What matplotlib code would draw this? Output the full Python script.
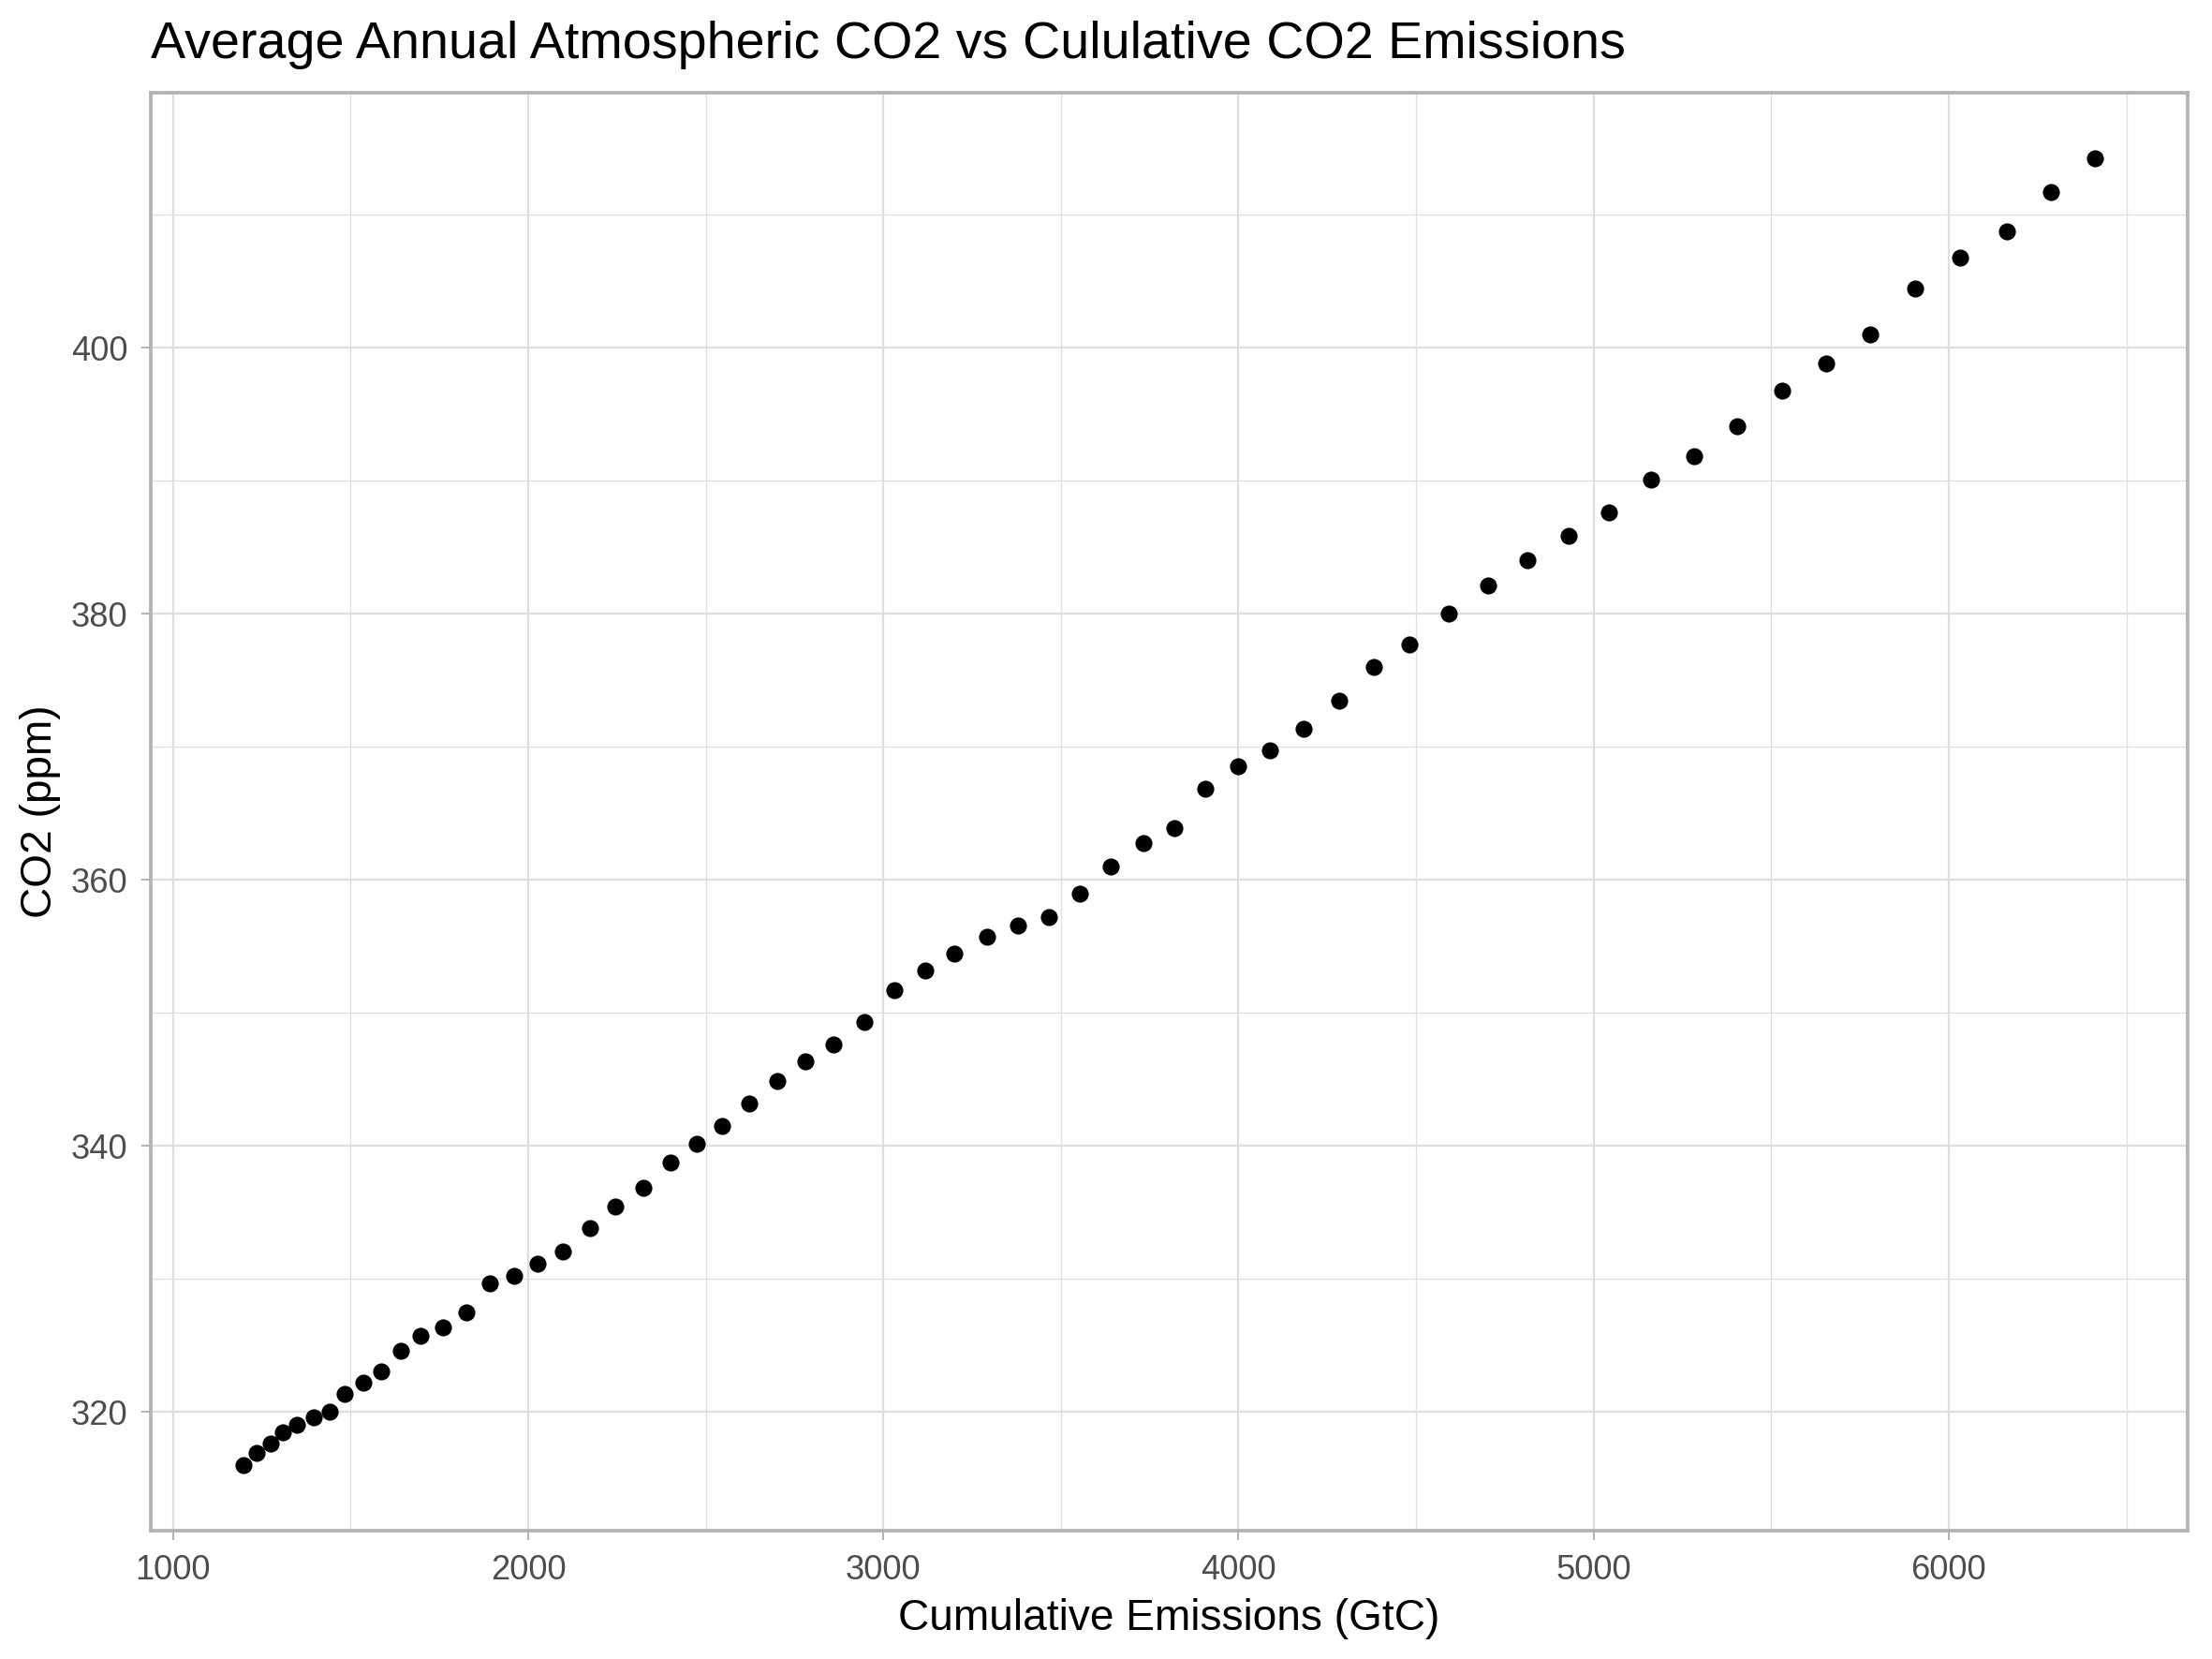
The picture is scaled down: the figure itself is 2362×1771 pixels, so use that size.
import matplotlib
matplotlib.use("Agg")
import matplotlib.pyplot as plt
from matplotlib.ticker import MultipleLocator

plt.rcParams['font.family'] = ['Liberation Sans', 'DejaVu Sans']

# Cumulative emissions (GtC)
cum_emissions = [1198, 1234, 1274, 1309, 1349, 1397, 1440, 1484, 1535, 1587,
                 1642, 1698, 1761, 1825, 1892, 1960, 2027, 2098, 2174, 2245,
                 2324, 2400, 2475, 2546, 2622, 2701, 2780, 2860, 2947, 3030,
                 3117, 3201, 3292, 3379, 3466, 3554, 3641, 3732, 3819, 3906,
                 3998, 4089, 4184, 4283, 4382, 4481, 4592, 4703, 4814, 4929,
                 5044, 5163, 5282, 5405, 5532, 5655, 5778, 5905, 6032, 6163,
                 6289, 6412]
# Annual mean atmospheric CO2 (ppm)
co2_ppm = [315.98, 316.91, 317.64, 318.45, 318.99, 319.62, 320.04, 321.37, 322.18, 323.05,
           324.62, 325.68, 326.32, 327.46, 329.68, 330.19, 331.13, 332.03, 333.84, 335.41,
           336.84, 338.76, 340.12, 341.48, 343.15, 344.87, 346.35, 347.61, 349.31, 351.69,
           353.20, 354.45, 355.70, 356.54, 357.21, 358.96, 360.97, 362.74, 363.88, 366.84,
           368.54, 369.71, 371.32, 373.45, 375.98, 377.70, 379.98, 382.09, 384.02, 385.83,
           387.64, 390.10, 391.85, 394.06, 396.74, 398.81, 401.01, 404.41, 406.76, 408.72,
           411.66, 414.24]

title = "Average Annual Atmospheric CO2 vs Cululative CO2 Emissions"
xlabel = "Cumulative Emissions (GtC)"
ylabel = "CO2 (ppm)"

W, H, DPI = 2362, 1771, 300
fig = plt.figure(figsize=(W / DPI, H / DPI), dpi=DPI)
left, right, bottom, top = 161 / W, 2336 / W, (H - 1634) / H, (H - 99) / H
ax = fig.add_axes([left, bottom, right - left, top - bottom])

ax.scatter(cum_emissions, co2_ppm, s=19, color='black', linewidths=0, zorder=3)

xr = max(cum_emissions) - min(cum_emissions)
yr = max(co2_ppm) - min(co2_ppm)
ax.set_xlim(min(cum_emissions) - 0.05 * xr, max(cum_emissions) + 0.05 * xr)
ax.set_ylim(min(co2_ppm) - 0.05 * yr, max(co2_ppm) + 0.05 * yr)

ax.xaxis.set_major_locator(MultipleLocator(1000))
ax.xaxis.set_minor_locator(MultipleLocator(500))
ax.yaxis.set_major_locator(MultipleLocator(20))
ax.yaxis.set_minor_locator(MultipleLocator(10))

ax.grid(which='major', color='#DEDEDE', linewidth=0.55)
ax.grid(which='minor', color='#DEDEDE', linewidth=0.3)
ax.set_axisbelow(True)

for s in ax.spines.values():
    s.set_color('#B3B3B3')
    s.set_linewidth(0.9)

ax.tick_params(which='major', length=2.4, width=0.5, color='#B3B3B3',
               labelsize=8.7, labelcolor='#4D4D4D', pad=3.5)
ax.tick_params(which='minor', length=0)

ax.set_xlabel(xlabel, fontsize=11.05, color='black', labelpad=3)
ax.set_ylabel(ylabel, fontsize=11.05, color='black', labelpad=2.5)

fig.text(left, (H - 62) / H, title, fontsize=13.37, color='black',
         ha='left', va='baseline')

fig.savefig("out.png", dpi=DPI, facecolor='white')
